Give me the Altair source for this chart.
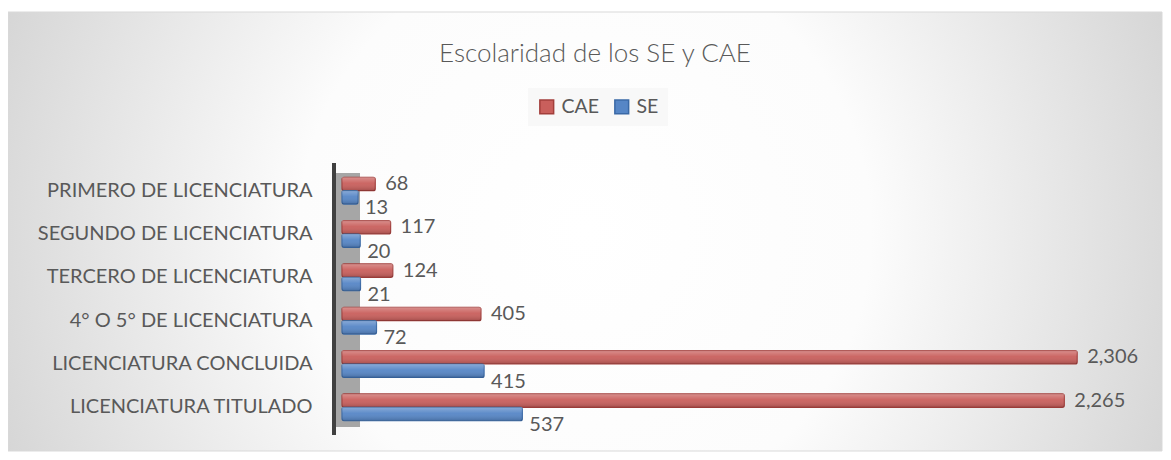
import altair as alt
import pandas as pd

categories = [
    "PRIMERO DE LICENCIATURA",
    "SEGUNDO DE LICENCIATURA",
    "TERCERO DE LICENCIATURA",
    "4° O 5° DE LICENCIATURA",
    "LICENCIATURA CONCLUIDA",
    "LICENCIATURA TITULADO",
]
cae = [68, 117, 124, 405, 2306, 2265]
se = [13, 20, 21, 72, 415, 537]
series = ["CAE", "SE"]

rows = []
for c, a, b in zip(categories, cae, se):
    rows.append({"cat": c, "serie": "CAE", "valor": a})
    rows.append({"cat": c, "serie": "SE", "valor": b})
df = pd.DataFrame(rows)

FONT = "Lato"
TXT = "#595959"
X0 = -38

xscale = alt.Scale(domain=[X0, 2500], nice=False, zero=False)
yenc = alt.Y("cat:N", sort=categories,
             scale=alt.Scale(paddingInner=0.38, paddingOuter=0.19),
             axis=alt.Axis(title=None, domain=False, ticks=False, grid=False,
                           labelFont=FONT, labelFontSize=20, labelColor=TXT,
                           labelPadding=30, labelLimit=400, zindex=2))
yoff = alt.YOffset("serie:N", sort=series)

base = alt.Chart(df)

bg = alt.Chart(pd.DataFrame({"a": [0]})).mark_rect(
    color=alt.RadialGradient(
        gradient="radial", x1=0.5, y1=0.5, r1=0, x2=0.5, y2=0.5, r2=0.62,
        stops=[alt.GradientStop(offset=0, color="#ffffff"),
               alt.GradientStop(offset=0.4, color="#fcfcfc"),
               alt.GradientStop(offset=1, color="#cbcbcb")]),
    stroke="#d9d9d9", strokeWidth=1,
).encode(x=alt.value(-334), x2=alt.value(820), y=alt.value(-157), y2=alt.value(282))

wall = alt.Chart(pd.DataFrame({"a": [0]})).mark_rect(color="#a6a6a6").encode(
    x=alt.value(-8), x2=alt.value(18), y=alt.value(4), y2=alt.value(258))
wall_line = alt.Chart(pd.DataFrame({"a": [0]})).mark_rect(color="#404040").encode(
    x=alt.value(-10), x2=alt.value(-6), y=alt.value(-6), y2=alt.value(266))

bars = base.mark_bar(strokeWidth=1.2, cornerRadiusEnd=2).encode(
    y=yenc, yOffset=yoff,
    x=alt.X("valor:Q", scale=xscale, axis=None),
    x2=alt.datum(X0),
    color=alt.Color("serie:N", sort=series,
                    scale=alt.Scale(domain=series, range=["#c95f5c", "#5686c6"]),
                    legend=alt.Legend(title=None, orient="none", legendX=186, legendY=-81,
                                      direction="horizontal", symbolType="square",
                                      symbolSize=190, symbolStrokeWidth=1.5,
                                      labelFont=FONT, labelFontSize=19.5, labelColor=TXT,
                                      columnPadding=12, padding=9, fillColor="#f8f8f8",
                                      labelOffset=5, zindex=2)),
    stroke=alt.Stroke("serie:N", sort=series,
                      scale=alt.Scale(domain=series, range=["#a23e3b", "#3a69a6"]),
                      legend=None),
)

shade = base.mark_bar(
    color=alt.LinearGradient(
        gradient="linear", x1=0, y1=0, x2=0, y2=1,
        stops=[alt.GradientStop(offset=0, color="rgba(255,255,255,0.30)"),
               alt.GradientStop(offset=0.45, color="rgba(255,255,255,0.05)"),
               alt.GradientStop(offset=1, color="rgba(0,0,0,0.18)")]),
).encode(y=alt.Y("cat:N", sort=categories), yOffset=yoff,
         x=alt.X("valor:Q", scale=xscale), x2=alt.datum(X0))

lab_cae = base.transform_filter(alt.datum.serie == "CAE").mark_text(
    align="left", baseline="middle", dx=10, font=FONT, fontSize=20, color=TXT,
).encode(y=alt.Y("cat:N", sort=categories), yOffset=yoff,
         x=alt.X("valor:Q", scale=xscale),
         text=alt.Text("valor:Q", format=","))

lab_se = base.transform_filter(alt.datum.serie == "SE").mark_text(
    align="left", baseline="middle", dx=7, dy=11, font=FONT, fontSize=20, color=TXT,
).encode(y=alt.Y("cat:N", sort=categories), yOffset=yoff,
         x=alt.X("valor:Q", scale=xscale),
         text=alt.Text("valor:Q", format=","))

chart = alt.layer(bg, wall, wall_line, bars, shade, lab_cae, lab_se).properties(
    width=796, height=260,
    title=alt.TitleParams("Escolaridad de los SE y CAE", font=FONT, fontSize=26,
                          fontWeight=300, color=TXT, dx=10, offset=-55,
                          anchor="middle", frame="bounds", zindex=2),
    autosize=alt.AutoSizeParams(type="none"),
    padding={"left": 334, "top": 161, "right": 25, "bottom": 23},
).configure_view(stroke=None)

chart.save("out.html", embed_options={"renderer": "svg", "actions": False})
